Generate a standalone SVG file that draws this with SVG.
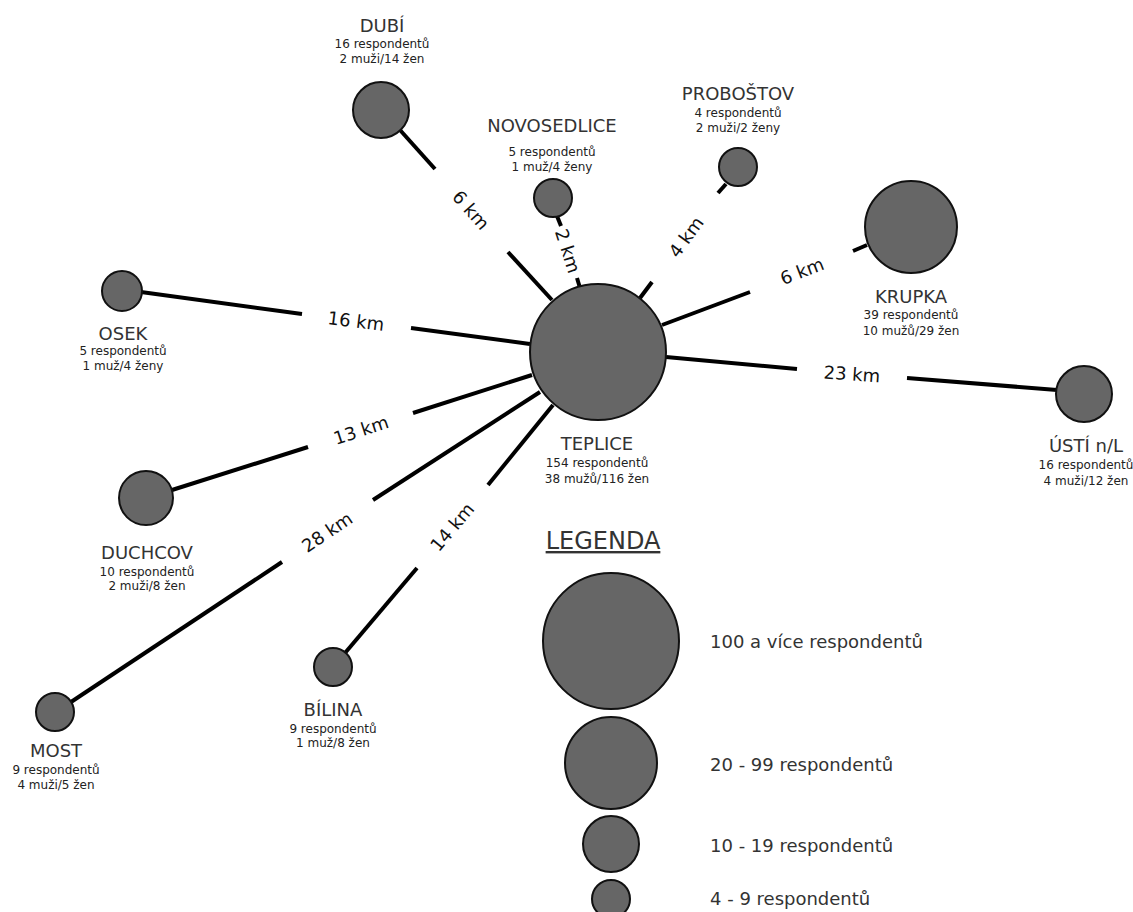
<svg xmlns="http://www.w3.org/2000/svg" width="1133" height="912" viewBox="0 0 1133 912">
<style>
.c{fill:#666;stroke:#111;stroke-width:2}
.t{font-family:"DejaVu Sans",Verdana,sans-serif;font-size:18px;fill:#333;text-anchor:middle}
.s{font-family:"DejaVu Sans",Verdana,sans-serif;font-size:12px;fill:#222;text-anchor:middle}
.d{font-family:"DejaVu Sans",Verdana,sans-serif;font-size:18px;fill:#111;text-anchor:middle;dominant-baseline:central}
.l{font-family:"DejaVu Sans",Verdana,sans-serif;font-size:18px;fill:#333}
.e{stroke:#000;stroke-width:4;fill:none}
</style>
<rect width="1133" height="912" fill="#fff"/>
<g id="connectors">
<line class="e" x1="400" y1="130" x2="435" y2="169"/>
<line class="e" x1="508" y1="252" x2="552" y2="300"/>
<text class="d" transform="translate(471,210) rotate(49)">6 km</text>
<line class="e" x1="557" y1="216" x2="561" y2="226"/>
<line class="e" x1="577" y1="278" x2="580" y2="288"/>
<text class="d" transform="translate(568,251) rotate(72)">2 km</text>
<line class="e" x1="726" y1="184" x2="718" y2="193"/>
<line class="e" x1="652" y1="282" x2="640" y2="298"/>
<text class="d" transform="translate(686,237) rotate(-54)">4 km</text>
<line class="e" x1="867" y1="245" x2="853" y2="251"/>
<line class="e" x1="750" y1="292" x2="662" y2="325"/>
<text class="d" transform="translate(802,271) rotate(-21)">6 km</text>
<line class="e" x1="907" y1="378" x2="1057" y2="390"/>
<line class="e" x1="666" y1="357" x2="797" y2="369"/>
<text class="d" transform="translate(852,374) rotate(4)">23 km</text>
<line class="e" x1="141" y1="292" x2="302" y2="314"/>
<line class="e" x1="411" y1="328" x2="530" y2="344"/>
<text class="d" transform="translate(356,321) rotate(7)">16 km</text>
<line class="e" x1="172" y1="490" x2="308" y2="447"/>
<line class="e" x1="413" y1="413" x2="532" y2="375"/>
<text class="d" transform="translate(361,430) rotate(-18)">13 km</text>
<line class="e" x1="71" y1="702" x2="282" y2="562"/>
<line class="e" x1="373" y1="500" x2="540" y2="392"/>
<text class="d" transform="translate(327,532) rotate(-34)">28 km</text>
<line class="e" x1="345" y1="653" x2="417" y2="568"/>
<line class="e" x1="488" y1="485" x2="553" y2="405"/>
<text class="d" transform="translate(452,527) rotate(-50)">14 km</text>
</g>
<g id="teplice">
<circle class="c" cx="598" cy="352" r="68"/>
<text class="t" x="597" y="450">TEPLICE</text>
<text class="s" x="597" y="467">154 respondentů</text>
<text class="s" x="597" y="483">38 mužů/116 žen</text>
</g>
<g id="dubi">
<circle class="c" cx="381" cy="110" r="28"/>
<text class="t" x="382" y="32">DUBÍ</text>
<text class="s" x="382" y="48">16 respondentů</text>
<text class="s" x="382" y="63">2 muži/14 žen</text>
</g>
<g id="novosedlice">
<circle class="c" cx="553" cy="198" r="19"/>
<text class="t" x="552" y="132">NOVOSEDLICE</text>
<text class="s" x="552" y="156">5 respondentů</text>
<text class="s" x="552" y="171">1 muž/4 ženy</text>
</g>
<g id="probostov">
<circle class="c" cx="738" cy="167" r="19"/>
<text class="t" x="738" y="100">PROBOŠTOV</text>
<text class="s" x="738" y="117">4 respondentů</text>
<text class="s" x="738" y="132">2 muži/2 ženy</text>
</g>
<g id="krupka">
<circle class="c" cx="911" cy="227" r="46"/>
<text class="t" x="911" y="303">KRUPKA</text>
<text class="s" x="911" y="319">39 respondentů</text>
<text class="s" x="911" y="335">10 mužů/29 žen</text>
</g>
<g id="usti">
<circle class="c" cx="1084" cy="394" r="28"/>
<text class="t" x="1086" y="452">ÚSTÍ n/L</text>
<text class="s" x="1086" y="469">16 respondentů</text>
<text class="s" x="1086" y="485">4 muži/12 žen</text>
</g>
<g id="osek">
<circle class="c" cx="122" cy="291" r="20"/>
<text class="t" x="123" y="340">OSEK</text>
<text class="s" x="123" y="355">5 respondentů</text>
<text class="s" x="123" y="370">1 muž/4 ženy</text>
</g>
<g id="duchcov">
<circle class="c" cx="146" cy="498" r="27"/>
<text class="t" x="147" y="559">DUCHCOV</text>
<text class="s" x="147" y="576">10 respondentů</text>
<text class="s" x="147" y="590">2 muži/8 žen</text>
</g>
<g id="most">
<circle class="c" cx="55" cy="712" r="19"/>
<text class="t" x="56" y="757">MOST</text>
<text class="s" x="56" y="774">9 respondentů</text>
<text class="s" x="56" y="789">4 muži/5 žen</text>
</g>
<g id="bilina">
<circle class="c" cx="333" cy="667" r="19"/>
<text class="t" x="333" y="716">BÍLINA</text>
<text class="s" x="333" y="733">9 respondentů</text>
<text class="s" x="333" y="747">1 muž/8 žen</text>
</g>
<g id="legend">
<text x="603" y="549" font-family="DejaVu Sans, Verdana, sans-serif" font-size="24" fill="#333" text-anchor="middle" text-decoration="underline">LEGENDA</text>
<circle class="c" cx="611" cy="641" r="68"/>
<text class="l" x="710" y="648">100 a více respondentů</text>
<circle class="c" cx="611" cy="763" r="46"/>
<text class="l" x="710" y="771">20 - 99 respondentů</text>
<circle class="c" cx="611" cy="844" r="28"/>
<text class="l" x="710" y="852">10 - 19 respondentů</text>
<circle class="c" cx="611" cy="899" r="19"/>
<text class="l" x="710" y="905">4 - 9 respondentů</text>
</g>
</svg>
